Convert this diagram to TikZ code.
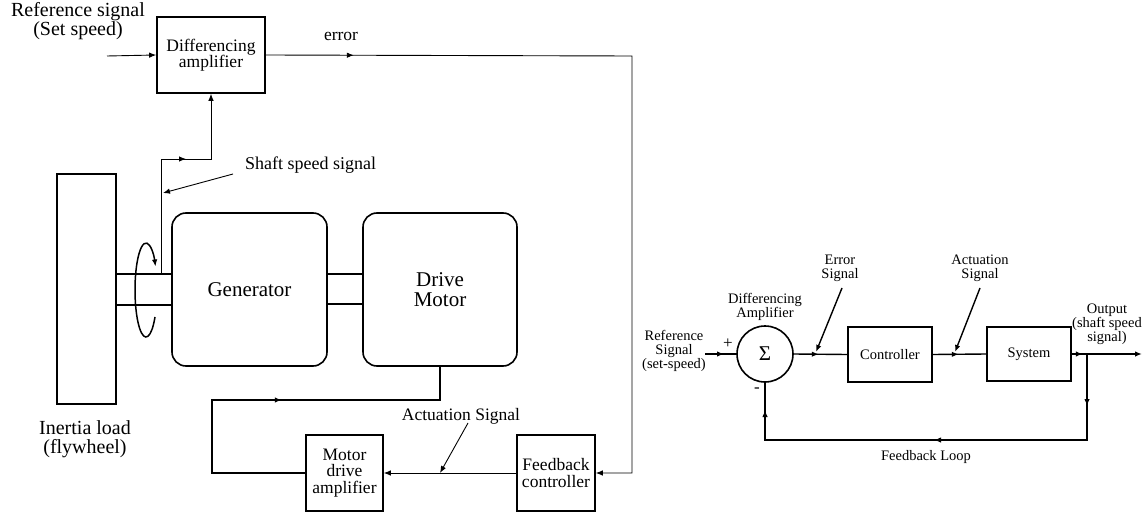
\documentclass[tikz,border=0pt]{standalone}
\usepackage{fontspec}
\setmainfont{Liberation Serif}
\usetikzlibrary{arrows.meta,decorations.markings,calc}
\newcommand\szRef{\fontsize{20}{19.5}\selectfont}
\newcommand\szGen{\fontsize{21}{20.5}\selectfont}
\newcommand\szBox{\fontsize{17.5}{16.5}\selectfont}
\newcommand\szSs{\fontsize{18}{18}\selectfont}
\newcommand\szSm{\fontsize{14.5}{14}\selectfont}
\begin{document}
\begin{tikzpicture}[x=1pt,y=-1pt,
  >={Latex[length=7pt,width=5.5pt]},
  box/.style={draw,line width=1.6pt,align=center,inner sep=0pt},
  rbox/.style={box,rounded corners=14pt},
  sig/.style={line width=0.9pt},
  rsig/.style={line width=1.4pt},
  heavy/.style={line width=2pt},
  marrow/.style={postaction={decorate},decoration={markings,mark=at position #1 with {\arrow{>}}}},
  lbl/.style={align=center,inner sep=0pt}
]
\useasboundingbox (0,0) rectangle (1145,513);

% ---------- left: physical set-up ----------
\node[lbl,font=\szRef] (reflbl) at (78,21) {Reference signal\\(Set speed)};
\node[box,font=\szBox,minimum width=108,minimum height=76] (amp) at (211,55) {Differencing\\amplifier};
\node[lbl,font=\szBox] (errlbl) at (341,36) {error};
\node[box,font=\szBox,minimum width=78,minimum height=76] (fb) at (556,473) {Feedback\\controller};
\node[box,font=\szBox,minimum width=77,minimum height=76] (mda) at (344.5,473) {Motor\\drive\\amplifier};
\node[box,minimum width=59,minimum height=230] (fly) at (86.5,289) {};
\node[rbox,font=\szGen,minimum width=155,minimum height=153] (gen) at (249.5,289.5) {Generator};
\node[rbox,font=\szGen,minimum width=154,minimum height=153] (dm) at (440,289.5) {Drive\\Motor};
\node[lbl,font=\szRef] (flylbl) at (85,439) {Inertia load\\(flywheel)};
\node[lbl,font=\szSs,anchor=west] (sslbl) at (245,165) {Shaft speed signal};
\node[lbl,font=\szBox] (actlbl) at (461,416) {Actuation Signal};

% shafts
\draw[line width=1.6pt] (fly.east |- 0,274) -- (gen.west |- 0,274);
\draw[line width=1.6pt] (fly.east |- 0,305) -- (gen.west |- 0,305);
\draw[line width=1.6pt] (gen.east |- 0,274) -- (dm.west |- 0,274);
\draw[line width=1.6pt] (gen.east |- 0,304) -- (dm.west |- 0,304);

% rotation arrow
\coordinate (rotc) at (146,290);
\draw[line width=1.5pt,->] ($(rotc)+(35:11 and 47)$) arc[start angle=35,end angle=330,x radius=11,y radius=47];

% signals
\coordinate (refin) at (107,56);
\draw[sig,->] (refin) -- (amp.west);
\draw[sig,->,marrow=88pt] (amp.east) -- (632,56) |- (fb.east);
\draw[sig,->] (fb.west) -- (mda.east);
\coordinate (tap) at (161,274);
\draw[sig,->,marrow=140pt] (tap) -- (161,159) -| (amp.south);
\coordinate (ssp) at (233,174);
\coordinate (ssq) at (163,193);
\draw[sig,->] (ssp) -- (ssq);
\coordinate (acp) at (468,423);
\coordinate (acq) at (440,473);
\draw[sig,->] (acp) -- (acq);
\draw[heavy,marrow=236pt] (mda.west) -- (212,473) -- (212,400) -| (dm.south);

% ---------- right: block diagram ----------
\node[draw,circle,line width=1.6pt,minimum size=56,inner sep=0pt] (sum) at (765,354) {\fontsize{21}{21}\selectfont Σ};
\node[box,font=\szSm,minimum width=84,minimum height=55] (ctrl) at (890,354.5) {Controller};
\node[box,font=\szSm,minimum width=84,minimum height=54] (sys) at (1029,354) {System};
\node[lbl,font=\szSm] (rlbl) at (674,351) {Reference\\Signal\\(set-speed)};
\node[lbl,font=\fontsize{17}{17}\selectfont] (plus) at (728,344) {+};
\node[lbl,font=\fontsize{17}{17}\selectfont] (minus) at (757,390) {-};
\node[lbl,font=\szSm] (dalbl) at (765,307) {Differencing\\Amplifier};
\node[lbl,font=\szSm] (eslbl) at (840,268) {Error\\Signal};
\node[lbl,font=\szSm] (aslbl) at (980,268) {Actuation\\Signal};
\node[lbl,font=\szSm] (outlbl) at (1107,324) {Output\\(shaft speed\\signal)};
\node[lbl,font=\szSm] (fblbl) at (926,457) {Feedback Loop};

\coordinate (rin) at (705,354);
\draw[rsig,marrow=19pt] (rin) -- (sum.west);
\draw[rsig,marrow=25pt] (sum.east) -- (ctrl.west);
\draw[rsig,marrow=26pt] (ctrl.east) -- (sys.west);
\coordinate (rout) at (1142,354);
\draw[rsig,->,marrow=11pt] (sys.east) -- (rout);
\coordinate (br) at (1087,354);
\draw[rsig,postaction={decorate},decoration={markings,
   mark=at position 52pt with {\arrow{>}},
   mark=at position 239pt with {\arrow{>}},
   mark=at position 438pt with {\arrow{>}}}]
   (br) -- (1087,440) -| (sum.south);
\coordinate (esp) at (842,288);
\coordinate (esq) at (816,352);
\draw[rsig,->] (esp) -- (esq);
\coordinate (asp) at (980,288);
\coordinate (asq) at (955,352);
\draw[rsig,->] (asp) -- (asq);
\end{tikzpicture}
\end{document}
